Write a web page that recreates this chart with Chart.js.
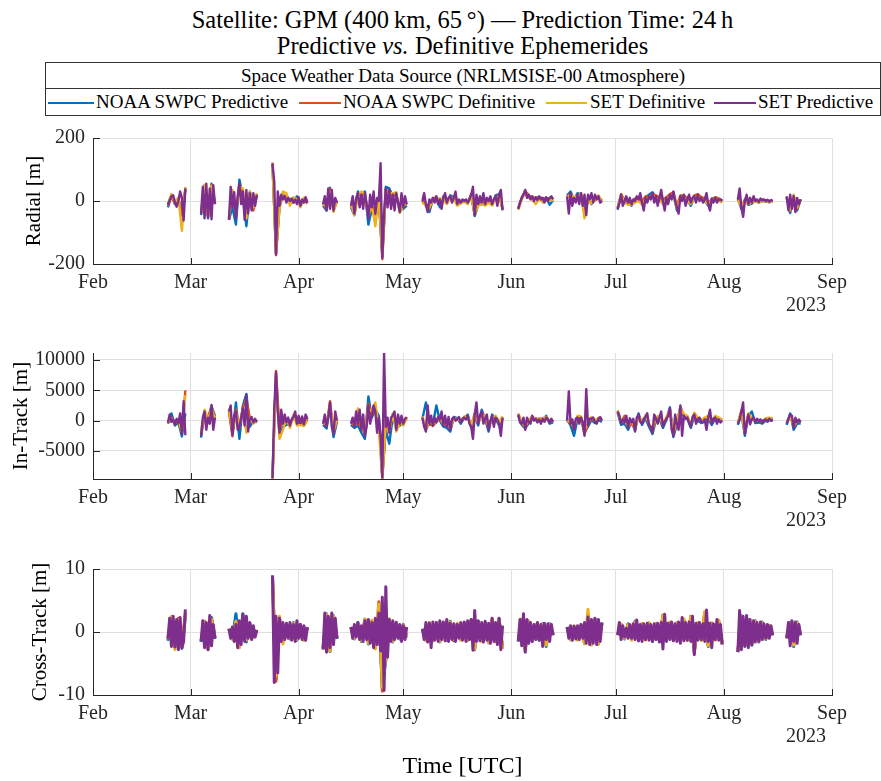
<!DOCTYPE html>
<html>
<head>
<meta charset="utf-8">
<script src="https://cdn.jsdelivr.net/npm/chart.js@4.4.1/dist/chart.umd.min.js"></script>
<style>
  body { margin: 0; width: 881px; height: 781px; background: #fff; position: relative; overflow: hidden;
         font-family: "Liberation Serif", "DejaVu Serif", serif; color: #000; }
  .title { position: absolute; left: 22px; width: 881px; text-align: center; font-size: 24.5px; line-height: 26px; white-space: nowrap; }
  #legend { position: absolute; left: 45px; top: 62px; width: 834px; height: 52px; border: 1px solid #333; }
  #legend .head { height: 25px; border-bottom: 1px solid #333; text-align: center; font-size: 19px; line-height: 25px; }
  #legend .item { position: absolute; top: 26px; height: 26px; font-size: 19px; line-height: 26px; white-space: nowrap; }
  #legend .swatch { position: absolute; top: 13px; height: 2px; }
  .panel { position: absolute; left: 0; }
</style>
</head>
<body>
<div class="title" style="top:7px">Satellite: GPM (400&thinsp;km, 65&thinsp;&deg;) &mdash; Prediction Time: 24&thinsp;h</div>
<div class="title" style="top:33px">Predictive <i>vs.</i> Definitive Ephemerides</div>
<div id="legend">
  <div class="head">Space Weather Data Source (NRLMSISE-00 Atmosphere)</div>
</div>
<canvas class="panel" id="radialChart" width="881" height="195" style="top:117px"></canvas>
<canvas class="panel" id="inTrackChart" width="881" height="195" style="top:332px"></canvas>
<canvas class="panel" id="crossTrackChart" width="881" height="233" style="top:548px"></canvas>
<script>
// ---------------- axis data ----------------
const monthDays = [0, 28, 59, 89, 120, 150, 181, 212]; // days after 1 Feb 2023
const monthLabels = ["Feb", "Mar", "Apr", "May", "Jun", "Jul", "Aug", "Sep"];
const radialTicks = [-200, 0, 200];
const inTrackTicks = [-5000, 0, 5000, 10000];
const crossTrackTicks = [-10, 0, 10];

// observation arcs: first day (after 1 Feb) and length in days
const segStart = [21.5, 31, 39, 51.5, 66, 74, 94.5, 122, 136, 150.5, 185, 199];
const segLen = [5, 4, 8, 10, 4, 16, 23, 10, 10, 30, 10, 4];
const stepFine = 0.5; // SET predictive samples
const stepCoarse = 1; // other sources

const seriesNames = ["NOAA SWPC Predictive", "NOAA SWPC Definitive", "SET Definitive", "SET Predictive"];
const seriesColors = ["#0072BD", "#D95319", "#EDB120", "#7E2F8E"];

// ---------------- radial [m] ----------------
const radialSetPred = [
  [-12, 3, 15, 18, -5, -18, 0, 30, 10, -62, 40],
  [-40, 45, -55, 55, -50, 40, -58, 50, -10],
  [-60, 45, -20, 28, -55, 15, 55, -10, 30, -60, 35, -40, 25, -30, 25, -15, 20],
  [118, 60, -170, 30, -15, 20, 5, 15, -5, 10, 0, 8, -5, 5, -10, 12, -15, 5, -5, 12, -5],
  [-10, 15, -30, 40, -25, 35, -30, 10, -5],
  [-15, 15, -40, 10, 25, -20, 20, -25, 25, -10, -55, 20, -20, 30, -40, 10, 0, 120, -180, -40, 40, -20, 35, -25, 20, -30, 25, -5, -35, 25, -20, 15, -10],
  [0, 25, -10, -35, 5, -5, 10, -5, 15, -10, 5, -25, 10, 25, -5, 10, 15, -5, 10, 30, -10, 5, -5, 5, 0, 5, -5, 5, 20, 45, -45, 20, -10, 15, -5, 25, -10, 10, 0, 15, -10, 5, 15, -15, 20, 35, -30],
  [-25, -5, 10, 20, 35, 10, 20, 5, 15, 0, 12, 3, 15, 5, 10, -5, 12, 0, 10, 15, 5],
  [15, -40, 25, -15, 10, -5, 20, -10, 25, -15, 20, -45, 20, 5, 25, -5, 20, 5, 15, -5, 0],
  [-25, -5, 20, -15, 0, 15, -5, 10, -10, 5, 0, 15, 5, 25, -5, -30, 10, -5, 15, 5, 25, -5, 15, -15, 10, 35, 0, -30, 10, -10, 20, 5, 30, 0, -20, -40, 15, 0, 20, -15, 5, 20, -5, 10, 15, -5, 20, 0, 10, -5, 5, 25, -10, -30, 5, -5, 10, -5, 5, 5, 0],
  [5, 40, -20, -50, 0, 20, -10, 10, -5, 15, 0, 5, -3, 8, 2, 5, 0, 4, -2, 3, 0],
  [15, -30, 20, -25, 15, -35, 10, -10, 5]
];
const radialNoaaPred = [
  [-20, 18, -10, 5, -30, 35],
  [-45, 50, -55, 55, -10],
  [-60, -20, -75, 68, 10, -80, 30, -25, 15],
  [115, -165, -20, 20, 10, 5, -5, 15, -15, 0, -5],
  [-15, -30, 42, -30, 0],
  [-20, -45, 30, 15, 30, -75, -25, -30, 10, -175, 45, 40, 15, 20, -30, -25, -15],
  [0, -15, -35, 5, 10, -20, 15, -8, 18, 12, -12, -5, 2, -8, 22, -48, -12, -10, -12, 2, -12, 18, 22, -28],
  [-22, 8, 30, 15, 10, 8, 12, 5, 10, -12, 2],
  [18, 30, 5, 25, 20, -40, 10, -10, 8, 12, 2],
  [-28, 15, 5, -10, -15, 5, 10, -8, 12, 20, 28, 10, 5, -5, 8, 15, 25, -30, 10, 15, 2, -15, 12, 15, 8, 0, -15, 8, 8, 2, -2],
  [8, -25, 5, -12, -8, 2, -5, 0, -2, -4, -1],
  [10, -38, 18, -30, 5]
];
const radialNoaaDef = [
  [-15, 14, -8, 8, -45, 38],
  [-40, 48, -50, 50, -8],
  [-55, 30, -40, 50, 20, -50, 25, -30, 20],
  [122, -172, -15, 18, 15, 0, -5, 8, -12, 5, -8],
  [-10, -25, 38, -28, -3],
  [-15, -38, 22, 25, 20, -50, -15, -45, 5, -185, 35, 30, 18, 22, -32, -18, -8],
  [2, -8, -25, 8, 12, 0, 8, -2, 12, 8, -8, -3, 0, -3, 18, -42, -8, -3, -8, 0, -8, 12, 18, -25],
  [-25, 12, 32, 18, 12, 10, 12, 8, 8, 8, 4],
  [15, 22, 8, 18, 22, -42, 0, -5, 2, 10, -2],
  [-22, 22, 2, -2, -8, 8, 8, -2, 15, 12, 22, 18, 12, 5, 12, 22, 28, -15, 18, 18, 8, -2, 18, 22, 12, 8, -8, 5, 12, 8, 2],
  [5, -18, 2, -8, -3, 3, -2, 4, 2, 0, 1],
  [12, -32, 15, -25, 5]
];
const radialSetDef = [
  [-8, 22, -3, 12, -95, 45],
  [-35, 52, -45, 48, -5],
  [-50, 35, -30, 45, 40, -55, 30, -20, 25],
  [110, -160, -25, 30, 25, -15, 12, 5, -20, 10, 0],
  [-8, -20, 30, -35, 2],
  [-10, -45, 20, 30, 20, -45, -15, -80, 15, -170, 30, 25, 25, 28, -38, -15, -5],
  [-5, -15, -20, 2, 8, 8, 5, -10, 12, 5, -15, -8, -2, -10, 15, -40, -15, -8, -15, -5, -15, 10, 15, -20],
  [-28, 5, 28, 10, 5, -10, 8, -5, 5, 5, 0],
  [10, 20, 12, 15, 25, -55, 8, -8, 5, 18, 0],
  [-20, 18, -5, -12, -12, -5, 0, -12, 5, 10, 20, 8, 5, -10, 5, 15, 22, -25, 10, 12, 0, -10, 10, 15, 5, 0, -12, 0, 5, 0, -5],
  [2, -15, -2, -10, -5, -2, -5, 0, -1, -3, -2],
  [15, -28, 20, -20, 3]
];

// ---------------- in-track [m] ----------------
const inTrackSetPred = [
  [-300, 1000, -200, 200, -600, 300, -400, 1200, -2200, 3200, -2400],
  [-2500, 500, 1500, -1500, 500, -500, 2600, -1500, 500],
  [1500, 2500, -2400, 800, 1500, -1500, -1000, 500, 2000, -800, 4200, -1800, 200, 600, -300, 300, -200],
  [-9500, 2000, 8000, 1500, -2000, 1800, -500, 1000, -300, 500, -800, 200, 600, 1500, -500, 800, -400, 700, -600, 1000, 300],
  [-500, 1000, -1000, 500, 3000, -1000, -2200, 1500, 0],
  [-500, 500, -1000, 1500, -500, 1800, -1500, 1000, -2500, -1000, 2500, -500, 800, 2500, 1500, -2000, 500, -2500, -9400, 11100, -1000, 500, -2000, 500, 800, 1500, -1500, 1000, -500, 800, -500, 300, 500],
  [500, -1000, -1800, 2500, -500, 800, -800, 500, -300, 600, 200, 1500, -800, 800, -1000, 600, -1500, 300, 500, 0, 300, 600, -300, 300, 500, 200, 800, -500, -1000, -3000, 1000, 3000, -500, 800, 1500, -500, 300, 1000, -1500, 0, 800, -1000, 500, 200, -600, -2500, 500],
  [1000, -300, -500, 500, -1500, 500, -200, -500, 800, 0, 300, -300, 200, -500, 300, -200, 500, 200, -300, 300, -200],
  [0, 4800, -500, 200, -1500, 300, 500, -500, 500, -300, -2500, 5200, -800, 300, 300, 500, -200, -500, 300, 600, 0],
  [1500, 800, -500, 200, -300, 800, -1200, 400, -300, 300, -1800, 500, 1000, -200, -500, 300, 600, 1200, -800, -1000, -2000, 1000, 300, -500, 500, 1500, -1000, -200, 300, 800, 2000, -1500, -2500, 1000, -500, -1500, 2500, -2500, 800, 300, 500, -300, -1000, 600, 1000, -500, 200, 500, -200, -300, 200, -1500, 500, 1800, -500, 300, 500, -500, 200, -300, 0],
  [-500, 200, 1500, 3000, -2200, -500, 1000, -600, 200, 500, -200, 300, -100, 200, -300, 100, 200, -200, 300, 0, 200],
  [-500, 300, 1000, 800, -1200, 500, -300, 200, -300]
];
const inTrackNoaaPred = [
  [-500, 1200, -800, -300, -2600, 1200],
  [-2800, 1200, 300, 2400, 800],
  [1800, -2200, 3000, -3000, 2500, 4400, -1000, 0, -300],
  [-9000, 7500, -2500, -1000, -700, -500, 800, -300, -600, -400, 200],
  [-700, -1300, 2500, -2700, -200],
  [-700, -1200, -800, -2000, -3000, 4000, 500, 1800, 800, -9000, -1500, -3800, 600, -1200, -800, -300, 300],
  [300, 3000, -700, -600, 2500, 0, -1000, -1200, -1800, 600, 400, -500, 400, 1000, -1200, 800, -800, 1800, 200, -1800, 1000, 300, -800, 300],
  [800, -700, -1300, -400, 600, 100, 0, 100, 800, -500, -300],
  [200, -800, -2500, 300, 300, -2000, -1000, 100, -400, 100, -200],
  [1300, -700, -500, -1500, -100, -1600, 1200, -700, 400, -1000, -2200, 100, 300, -1200, 100, 2200, -2700, -700, 2300, 600, 300, -1200, 800, 0, -400, 0, 300, -700, 300, 0, -200],
  [-700, 1200, -2500, 800, 1500, -400, -300, -500, 0, 100, 0],
  [-700, 1200, -1500, -500, -500]
];
const inTrackNoaaDef = [
  [-400, 500, -600, 0, -2000, 5000],
  [-2300, 1400, 600, 2200, 400],
  [1500, -2600, 1800, -1200, 2200, 3500, 500, -200, -100],
  [-9600, 8200, -1500, 0, 0, -600, 400, -200, -200, -500, 500],
  [-400, -800, 3200, -2000, 200],
  [-400, -800, -300, -1200, -2200, 2800, 1000, 1200, 200, -9600, -800, -1500, 1000, -1000, -200, -600, 600],
  [500, -1500, -300, -900, -200, 300, -600, -800, -1300, 400, 200, -200, 600, 700, -900, 1200, -400, 1300, 400, -1300, 700, 600, -500, 600],
  [1100, -400, -1200, 0, 700, 200, 300, 200, 400, -200, -100],
  [0, -400, -1200, 600, 600, -2200, -600, 400, -100, 400, 100],
  [1600, -300, 800, -1000, -500, -1400, 800, -300, 800, -600, -1800, 500, 700, -800, 500, 1800, -2300, -300, 2200, 1000, 700, -800, 1200, 400, 0, 400, 700, -300, 700, 400, 100],
  [-400, 1700, -2000, 1100, 300, -100, 0, -200, 300, 400, 300],
  [-400, 900, -1000, -200, -200]
];
const inTrackSetDef = [
  [-200, 300, -300, 200, -1800, 4200],
  [-2000, 1800, 200, 2000, 300],
  [2000, -1500, 1200, -800, 1800, -2000, 300, -500, 0],
  [-9600, 7000, -3000, -1500, 300, -1200, 1000, -800, -700, -900, 0],
  [-300, -600, 2400, -1800, 300],
  [-200, -600, 2000, -1000, -2000, 2000, 1500, 3000, -1500, -9600, 0, -1800, 1200, -1800, -300, -800, 400],
  [700, -1200, -200, -500, 0, 400, -500, -600, -1000, 300, 300, 0, 700, 500, -700, 900, -300, 1000, 600, -1000, 500, 800, -300, 700],
  [1200, -200, -1000, 200, 500, 400, 400, 400, 600, 0, 0],
  [100, -200, -1000, 800, 700, -1500, -400, 600, 0, 500, 200],
  [1700, -200, -100, -900, 0, -1200, 700, -200, 900, -400, -1500, 600, 800, -600, 600, 1600, -2000, -200, 2000, 1100, 800, -600, 1300, 500, 100, 500, 800, -200, 800, 500, 200],
  [-300, 1400, -1800, 1200, 400, 0, 100, -100, 400, 500, 400],
  [-300, 800, -900, -100, -100]
];

// ---------------- cross-track [m] ----------------
const crossTrackSetPred = [
  [-1.0, 2.2, -2.3, 2.5, -2.4, 2.0, -2.8, 2.3, -2.5, -1.5, 3.6],
  [-1.5, 1.8, -2.5, 1.5, -2.8, 2.6, -2.2, 1.2, -1.0],
  [0.5, -1.0, 0.8, -1.5, 1.2, -2.5, 1.8, -2.0, 2.8, -1.5, 2.5, -1.0, 1.5, -1.2, 1.0, -0.8, 0.3],
  [9.0, -8.0, 2.5, -6.5, 2.2, -1.5, 1.5, -1.2, 1.3, -1.0, 1.5, -1.3, 1.2, -1.5, 1.8, -1.0, 1.2, -1.2, 1.0, -1.3, 0.8],
  [-2.8, 3.0, -3.2, 2.5, -2.5, 3.0, -2.0, 2.2, -1.0],
  [0.8, -1.0, 1.2, -0.8, 1.5, -1.2, 1.0, -1.5, 1.8, -1.2, 2.0, -1.8, 1.5, -2.5, 2.2, -2.0, 3.0, -3.0, 5.5, -9.3, 7.2, -4.0, 2.0, -1.5, 1.8, -1.2, 1.5, -1.0, 1.2, -1.5, 1.0, -1.2, 0.8],
  [0.5, -1.2, 1.5, -1.6, 1.4, -2.5, 1.6, -1.3, 1.5, -1.5, 1.8, -1.2, 1.6, -1.4, 2.0, -1.5, 1.4, -1.2, 1.3, -1.5, 1.2, -1.0, 1.5, -1.3, 1.6, -1.5, 1.8, -1.2, 2.0, -2.9, 3.4, -1.5, 1.8, -1.4, 1.5, -1.6, 1.7, -1.3, 1.4, -1.8, 2.2, -1.5, 1.5, -2.0, 2.2, -2.8, 1.0],
  [-1.5, 2.0, -2.2, 2.9, -3.2, 2.0, -1.8, 1.5, -1.5, 1.2, -1.2, 1.5, -1.3, 1.2, -2.3, 1.4, -1.2, 1.3, -1.5, 1.2, -0.5],
  [0.8, -1.0, 1.0, -1.3, 0.9, -1.1, 1.0, -1.2, 1.2, -1.0, 1.5, -1.8, 2.4, -2.0, 2.0, -1.8, 2.2, -2.0, 2.0, -1.5, 1.5],
  [-0.5, 1.5, -1.2, 1.0, -0.8, 0.6, -1.0, 1.2, -1.0, 1.3, -1.2, 1.9, -1.4, 1.2, -1.5, 1.3, -1.2, 1.4, -1.3, 1.2, -1.5, 1.3, -1.2, 1.4, -1.6, 1.5, -2.7, 2.8, -1.5, 1.4, -1.2, 1.6, -1.4, 1.3, -1.5, 1.6, -1.8, 2.3, -1.4, 1.5, -1.3, 1.6, -1.5, 2.5, -3.6, 1.4, -1.3, 1.5, -1.2, 1.3, -1.5, 3.5, -1.5, 1.4, -2.5, 1.3, -1.2, 2.0, -1.3, 1.2, -2.0],
  [-3.2, 3.4, -2.8, 2.5, -2.2, 2.6, -2.5, 2.0, -2.0, 1.8, -1.6, 1.5, -1.5, 1.6, -1.2, 1.3, -1.0, 1.2, -1.0, 1.0, -0.5],
  [-1.0, 1.5, -2.2, 1.8, -1.5, 1.6, -1.8, 1.2, -0.5]
];
const crossTrackNoaaPred = [
  [-1.4, 1.9, -2.4, 2.1, -2.6, 2.4],
  [-1.6, 1.5, -2.7, 2.3, -1.1],
  [0.4, -1.1, 2.9, -1.9, 2.9, -1.6, 1.3, -0.9, 0.3],
  [8.5, -7.5, 1.9, -1.6, 1.4, -1.1, 1.5, -1.3, 1.2, -1.3, 0.7],
  [-2.7, 2.9, -3.1, 2.6, -1.1],
  [0.8, -1.1, 1.5, -1.5, 2.0, -1.9, 1.7, -2.5, 3.1, -8.9, -4.5, 1.9, -1.6, 1.5, -1.1, 1.2, -0.9],
  [0.5, -1.3, 1.5, -1.4, 1.4, -1.6, 1.5, -1.3, 1.7, -1.4, 1.3, -1.2, 1.5, -1.3, 1.8, -2.8, 1.7, -1.4, 1.5, -1.7, 1.9, -1.5, 2.1, -2.6],
  [-1.5, 2.0, -2.9, 1.7, -1.5, 1.2, -1.3, 1.3, -2.3, 1.3, -0.5],
  [0.8, -1.1, 0.9, -1.2, 1.2, -1.8, 2.1, -2.0, 2.1, -1.9, 1.5],
  [-0.5, 1.2, -1.1, 1.3, -1.2, 1.7, -1.4, 1.3, -1.2, 1.4, -1.5, 1.3, -1.5, 2.5, -1.4, 1.5, -1.3, 1.4, -1.5, 1.9, -1.3, 2.2, -3.2, 1.4, -1.3, 2.9, -2.3, 1.4, -1.2, 1.7, -1.9],
  [-3.2, 2.6, -2.3, 2.0, -2.1, 1.8, -1.6, 1.6, -1.2, 1.0, -0.5],
  [-1.0, 1.5, -2.3, 1.6, -0.5]
];
const crossTrackNoaaDef = [
  [-1.1, 2.1, -2.2, 2.2, -2.2, 3.0],
  [-1.4, 1.7, -2.4, 2.1, -0.9],
  [0.5, -0.9, 1.4, -2.1, 2.3, -1.1, 1.1, -0.7, 0.2],
  [8.8, -7.8, 2.2, -1.5, 1.3, -0.9, 1.3, -1.1, 1.0, -1.1, 0.6],
  [-2.5, 2.7, -2.9, 2.4, -0.9],
  [0.7, -0.9, 1.3, -1.2, 1.9, -1.5, 1.5, -2.3, 4.8, -9.4, -3.5, 1.7, -1.3, 1.3, -0.9, 1.0, -0.7],
  [0.4, -1.2, 1.4, -1.3, 1.5, -1.4, 1.3, -1.2, 1.5, -1.3, 1.2, -1.1, 1.4, -1.2, 2.0, -2.5, 1.6, -1.3, 1.4, -1.6, 2.0, -1.5, 1.9, -2.4],
  [-1.3, 1.9, -2.7, 1.6, -1.3, 1.0, -1.1, 1.1, -2.0, 1.1, -0.4],
  [0.7, -0.9, 0.8, -1.1, 1.0, -1.6, 2.0, -1.8, 1.9, -1.7, 1.3],
  [-0.4, 1.1, -0.9, 1.2, -1.1, 1.6, -1.2, 1.2, -1.1, 1.3, -1.3, 1.2, -1.4, 2.7, -1.2, 1.4, -1.2, 1.3, -1.4, 2.0, -1.2, 2.5, -3.3, 1.3, -1.2, 3.1, -2.1, 1.3, -1.1, 1.8, -1.8],
  [-3.0, 2.4, -2.1, 1.8, -1.9, 1.6, -1.4, 1.4, -1.0, 0.9, -0.4],
  [-0.9, 1.3, -2.0, 1.4, -0.4]
];
const crossTrackSetDef = [
  [-1.0, 2.5, -2.8, 2.0, -2.4, 2.7],
  [-1.3, 1.6, -2.8, 1.9, -0.8],
  [0.6, -1.2, 1.7, -2.5, 2.1, -1.3, 1.0, -0.9, 0.4],
  [8.0, -7.0, 2.5, -1.9, 1.1, -1.0, 1.4, -1.2, 1.1, -1.3, 0.7],
  [-2.4, 2.8, -3.0, 2.5, -0.9],
  [0.8, -1.0, 1.4, -1.4, 2.1, -1.8, 1.9, -2.7, 4.4, -8.8, -3.8, 2.1, -1.5, 1.6, -1.0, 1.1, -0.8],
  [0.5, -1.3, 1.5, -1.4, 1.3, -1.5, 1.4, -1.1, 1.6, -1.2, 1.4, -1.3, 1.3, -1.4, 1.9, -2.7, 1.5, -1.5, 1.3, -1.7, 2.1, -1.4, 2.0, -2.7],
  [-1.4, 2.1, -3.0, 1.7, -1.4, 1.2, -1.2, 1.2, -2.1, 1.2, -0.5],
  [0.8, -1.3, 1.0, -1.3, 1.1, -1.9, 3.6, -2.1, 2.0, -1.9, 1.4],
  [-0.5, 1.3, -1.0, 1.1, -1.3, 1.5, -1.3, 1.4, -1.3, 1.5, -1.4, 1.4, -1.5, 2.6, -1.3, 1.6, -1.4, 1.5, -1.6, 2.1, -1.4, 2.4, -3.0, 1.5, -1.4, 3.2, -2.2, 1.5, -1.3, 1.9, -1.9],
  [-3.0, 2.5, -2.2, 1.9, -2.0, 1.7, -1.5, 1.5, -1.1, 1.0, -0.5],
  [-1.0, 1.4, -2.1, 1.5, -0.5]
];

//-------------------legend--------------------
const legendBox = document.getElementById("legend");
const legendItems = [
  { sw: 2, sl: 46, tx: 50 },
  { sw: 253, sl: 42, tx: 297 },
  { sw: 500, sl: 41, tx: 544 },
  { sw: 668, sl: 42, tx: 712 }
];
legendItems.forEach((it, i) => {
  const sw = document.createElement("div");
  sw.className = "swatch";
  sw.style.cssText = `left:${it.sw}px;width:${it.sl}px;top:39px;background:${seriesColors[i]}`;
  legendBox.appendChild(sw);
  const tx = document.createElement("div");
  tx.className = "item";
  tx.style.left = it.tx + "px";
  tx.textContent = seriesNames[i];
  legendBox.appendChild(tx);
});

//-------------------charts--------------------
const gridColor = "#e0e0e0";
const axisColor = "#262626";
const serif = "'Liberation Serif', 'DejaVu Serif', serif";

function buildPoints(segs, step) {
  const pts = [];
  segs.forEach((vals, s) => {
    vals.forEach((v, i) => pts.push({ x: segStart[s] + i * step, y: v }));
    pts.push({ x: segStart[s] + segLen[s] + 0.25, y: null }); // gap between arcs
  });
  return pts;
}

// MATLAB style inward ticks + year label
const matlabAxes = {
  id: "matlabAxes",
  afterDraw(chart) {
    const { ctx, chartArea: a, scales } = chart;
    ctx.save();
    ctx.strokeStyle = axisColor;
    ctx.lineWidth = 1;
    ctx.beginPath();
    scales.x.ticks.forEach((t) => {
      const px = Math.round(scales.x.getPixelForValue(t.value)) + 0.5;
      ctx.moveTo(px, a.bottom);
      ctx.lineTo(px, a.bottom - 6);
    });
    scales.y.ticks.forEach((t) => {
      const py = Math.round(scales.y.getPixelForValue(t.value)) + 0.5;
      ctx.moveTo(a.left, py);
      ctx.lineTo(a.left + 7, py);
    });
    ctx.stroke();
    ctx.fillStyle = "#262626";
    ctx.font = "20px " + serif;
    ctx.textAlign = "right";
    ctx.textBaseline = "middle";
    ctx.fillText("2023", a.right - 6, a.bottom + 42);
    ctx.restore();
  }
};

function makeChart(id, cfg) {
  const groups = [cfg.noaaPred, cfg.noaaDef, cfg.setDef, cfg.setPred];
  const datasets = groups.map((segs, i) => ({
    label: seriesNames[i],
    data: buildPoints(segs, i === 3 ? stepFine : stepCoarse),
    borderColor: seriesColors[i],
    borderWidth: cfg.lineWidth,
    borderJoinStyle: "round",
    pointRadius: 0,
    fill: false,
    tension: 0,
    order: 4 - i
  }));
  const canvas = document.getElementById(id);
  const chart = new Chart(canvas, {
    type: "line",
    data: { datasets },
    plugins: [matlabAxes],
    options: {
      responsive: false,
      maintainAspectRatio: false,
      animation: false,
      layout: { padding: { top: 0, right: 49, left: 0, bottom: 0 } },
      plugins: { legend: { display: false }, tooltip: { enabled: false } },
      scales: {
        x: {
          type: "linear",
          min: 0,
          max: 212,
          afterBuildTicks: (s) => { s.ticks = monthDays.map((v) => ({ value: v })); },
          afterFit: (s) => { s.height = cfg.xHeight; },
          ticks: {
            autoSkip: false,
            maxRotation: 0,
            padding: 7,
            color: "#262626",
            font: { family: serif, size: 20 },
            callback: (v) => monthLabels[monthDays.indexOf(v)]
          },
          grid: { color: gridColor, drawTicks: false },
          border: { color: axisColor },
          title: {
            display: !!cfg.xTitle,
            text: cfg.xTitle || "",
            color: "#000",
            font: { family: serif, size: 24 },
            padding: { top: 0, bottom: 0 }
          }
        },
        y: {
          min: cfg.min,
          max: cfg.max,
          afterBuildTicks: (s) => { s.ticks = cfg.ticks.map((v) => ({ value: v })); },
          afterFit: (s) => { s.width = 93; },
          ticks: {
            padding: 8,
            color: "#262626",
            font: { family: serif, size: 20 },
            callback: (v) => String(v)
          },
          grid: { color: gridColor, drawTicks: false },
          border: { color: axisColor },
          title: {
            display: true,
            text: cfg.yTitle,
            color: "#000",
            font: { family: serif, size: 21 },
            padding: { top: cfg.yTitleX - 12.6, bottom: 0 }
          }
        }
      }
    }
  });
  // line the plot box up with the reference layout
  const off = chart.chartArea.top;
  chart.resize(881, Math.round(off + (cfg.areaBottom - cfg.areaTop) + cfg.xHeight));
  canvas.style.top = (cfg.areaTop - chart.chartArea.top) + "px";
  return chart;
}

makeChart("radialChart", {
  noaaPred: radialNoaaPred, noaaDef: radialNoaaDef, setDef: radialSetDef, setPred: radialSetPred,
  min: -200, max: 200, ticks: radialTicks, yTitle: "Radial [m]", yTitleX: 34,
  areaTop: 138, areaBottom: 264, xHeight: 48, lineWidth: 2.4
});
makeChart("inTrackChart", {
  noaaPred: inTrackNoaaPred, noaaDef: inTrackNoaaDef, setDef: inTrackSetDef, setPred: inTrackSetPred,
  min: -9620, max: 11150, ticks: inTrackTicks, yTitle: "In-Track [m]", yTitleX: 21,
  areaTop: 353, areaBottom: 479, xHeight: 48, lineWidth: 2.4
});
makeChart("crossTrackChart", {
  noaaPred: crossTrackNoaaPred, noaaDef: crossTrackNoaaDef, setDef: crossTrackSetDef, setPred: crossTrackSetPred,
  min: -10, max: 10, ticks: crossTrackTicks, yTitle: "Cross-Track [m]", yTitleX: 40,
  areaTop: 569, areaBottom: 695, xHeight: 86, lineWidth: 3, xTitle: "Time [UTC]"
});
</script>
</body>
</html>
